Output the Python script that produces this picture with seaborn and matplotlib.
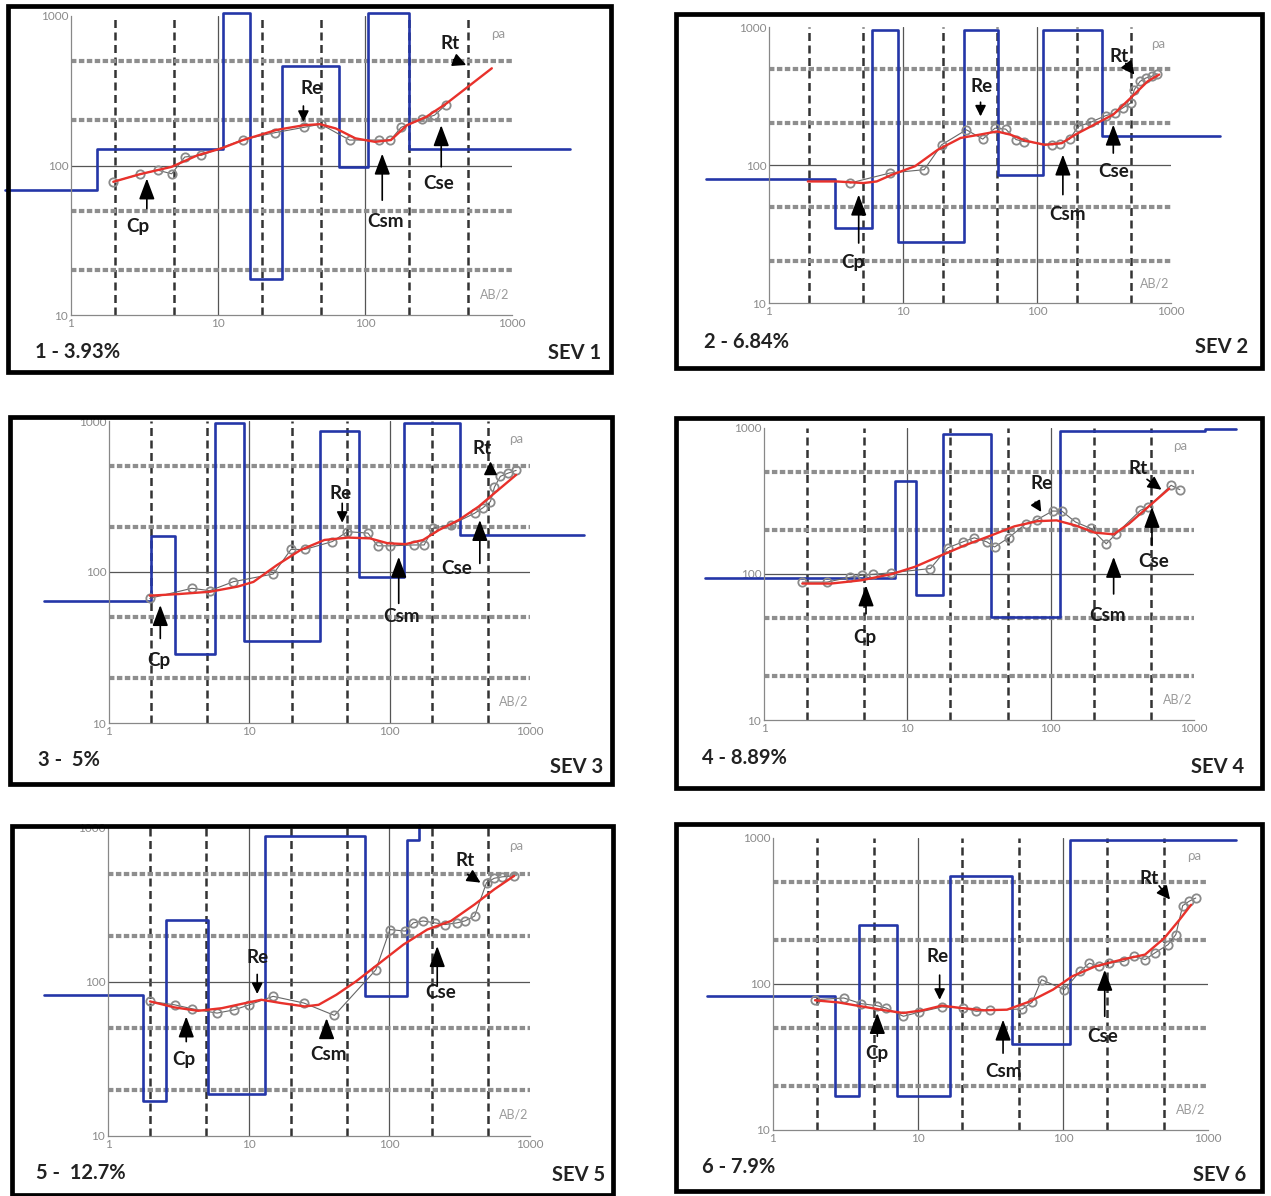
import numpy as np
import pandas as pd
import seaborn as sns
import matplotlib.pyplot as plt
from matplotlib.patches import Rectangle
from matplotlib.ticker import LogLocator, NullFormatter

# ---- data: layered model (blue), field points (circles), fitted curve (red) ----
sev1_depth = [1.5, 10.8, 16.4, 27.4, 66.5, 104, 199]
sev1_rho = [69, 128, 1050, 17.3, 465, 98, 1050, 128]
sev1_obs_ab = [1.94, 2.95, 3.9, 4.84, 5.94, 7.71, 14.8, 24.5, 38.5, 50, 78.5, 125, 149, 176, 244, 297, 353]
sev1_obs_rho = [77.8, 87.5, 93, 88, 114, 117, 149, 166, 180, 189, 148, 148, 148, 180, 204, 217, 253]
sev1_fit_ab = [1.94, 2.95, 4.84, 7.25, 10.5, 14.8, 25, 38.5, 49.4, 63.2, 86, 117, 150, 193, 262, 358, 519, 729]
sev1_fit_rho = [77.8, 87.5, 98, 117, 130, 148, 173, 186, 189, 177, 152, 144, 148, 186, 212, 260, 345, 447]

sev2_depth = [3.13, 5.84, 9.25, 28.4, 51.2, 110, 305]
sev2_rho = [79, 34.9, 950, 27.5, 950, 85, 950, 163]
sev2_obs_ab = [4.02, 8.0, 14.4, 19.4, 29.7, 39.4, 48.6, 58.4, 69.7, 79.4, 130, 148, 175, 203, 251, 326,
               384, 437, 499, 532, 588, 649, 716, 789]
sev2_obs_rho = [74, 87.5, 92.5, 140, 180, 154, 185, 182, 153, 148, 140, 143, 154, 190, 204, 228,
                238, 259, 281, 351, 404, 427, 439, 459]
sev2_fit_ab = [1.95, 3.19, 5.06, 6.36, 8.27, 12.3, 18.2, 26.9, 37.4, 50.2, 63.2, 82.2, 114, 153, 193, 267,
               371, 515, 670, 816]
sev2_fit_rho = [76, 76, 74, 76, 85, 98, 129, 157, 166, 175, 166, 150, 140, 144, 166, 196, 232, 315, 404, 452]

sev3_depth = [1.98, 2.97, 5.69, 9.19, 32.1, 60.3, 127, 315]
sev3_rho = [64.6, 172, 28.8, 970, 34.8, 853, 92, 970, 176]
sev3_obs_ab = [1.95, 3.9, 5.23, 7.71, 14.8, 19.8, 24.8, 39, 50, 70, 82, 100, 148, 176, 204, 273, 403,
               459, 523, 558, 615, 700, 797]
sev3_obs_rho = [66.9, 78, 75.2, 86.3, 97, 141, 141, 159, 185, 181, 149, 149, 151, 151, 195, 205, 245,
                265, 293, 365, 430, 452, 471]
sev3_fit_ab = [1.95, 3.11, 5.23, 8.23, 10.7, 15.7, 23.2, 34.3, 50.6, 72.3, 96.8, 130, 173, 225, 311, 430, 595, 797]
sev3_fit_rho = [69.7, 71.4, 74, 80, 86, 111, 140, 163, 169, 167, 155, 153, 163, 190, 221, 271, 350, 440]

sev4_depth = [8.22, 11.5, 17.7, 38.1, 117, 1200]
sev4_rho = [94, 433, 71.5, 906, 50.7, 953, 990]
sev4_obs_ab = [1.85, 2.75, 3.98, 4.79, 5.75, 7.73, 14.5, 19.1, 24.4, 29.3, 35.9, 40.6, 50.9, 67.1, 80.7,
               103, 120, 149, 191, 244, 284, 423, 479, 692, 797]
sev4_obs_rho = [88, 88, 95, 98, 99.5, 102, 109, 151, 166, 177, 166, 153, 177, 221, 236,
                270, 269, 227, 205, 161, 187, 273, 288, 405, 378]
sev4_fit_ab = [1.85, 2.93, 4.79, 7.82, 11.3, 16.3, 25.1, 38.6, 55.8, 80.7, 110, 149, 203, 275, 352, 479, 671]
sev4_fit_rho = [86, 86, 90.6, 100, 112, 131, 157, 184, 212, 230, 233, 215, 192, 187, 221, 288, 384]

sev5_depth = [1.77, 2.57, 5.14, 13.1, 67, 133, 163]
sev5_rho = [81.9, 16.8, 252, 18.6, 891, 80.8, 835, 1040]
sev5_obs_ab = [1.99, 2.97, 3.97, 5.96, 7.92, 10.1, 14.9, 24.7, 40.7, 80.2, 101, 130, 148, 174, 212, 249,
               302, 344, 404, 491, 558, 636, 772]
sev5_obs_rho = [74.8, 71.1, 67, 62.8, 66, 71.1, 80.7, 73, 60.7, 120, 219, 214, 242, 249, 242, 236,
                242, 249, 268, 442, 472, 482, 489]
sev5_fit_ab = [1.99, 2.97, 4.37, 6.44, 9.5, 12.3, 17, 25, 31.4, 42, 58, 85.6, 126, 186, 274, 404, 558, 772]
sev5_fit_rho = [74.8, 68.4, 65, 67.6, 73, 76.7, 73, 69.4, 71.1, 82.6, 101, 133, 175, 219, 249, 319, 400, 489]

sev6_depth = [2.68, 3.89, 7.15, 16.5, 44.2, 112]
sev6_rho = [82.4, 17.2, 255, 17.2, 552, 39, 964]
sev6_obs_ab = [1.95, 3.08, 4.06, 5.18, 6.03, 7.93, 10.1, 14.6, 20.4, 25.2, 31.2, 52.4, 61.1, 71.1, 102,
               131, 152, 177, 206, 263, 307, 368, 429, 530, 600, 669, 742, 823]
sev6_obs_rho = [78.1, 80.2, 73.3, 71.1, 68.5, 60.1, 64, 69.6, 68.5, 65, 66.1, 67.5, 74.8, 107, 91.5,
                122, 139, 132, 139, 143, 155, 147, 163, 186, 218, 344, 369, 388]
sev6_fit_ab = [1.95, 2.82, 4.06, 5.85, 7.93, 10.8, 14.6, 19.8, 28.5, 41.1, 59.2, 85.3, 116, 167, 255, 368, 499, 637, 765]
sev6_fit_rho = [77.3, 74.8, 70.3, 66.1, 63.3, 66.1, 71.1, 68.5, 66.1, 66.7, 76, 91.5, 113, 132, 147, 159, 206, 276, 349]

titles = ['1 - 3.93%', '2 - 6.84%', '3 -  5%', '4 - 8.89%', '5 -  12.7%', '6 - 7.9%']
sev_names = ['SEV 1', 'SEV 2', 'SEV 3', 'SEV 4', 'SEV 5', 'SEV 6']

# ---- layout (pixels in the 1271x1196 picture) ----
W, H = 1271, 1196
frames = [(8, 6, 611, 372), (676, 14, 1262, 368), (10, 417, 612, 784),
          (676, 418, 1262, 788), (12, 826, 613, 1195), (676, 824, 1262, 1191)]
axboxes = [(71, 16, 512, 315), (769, 27, 1171, 303), (109, 421, 530, 723),
           (764, 428, 1194, 720), (108, 828, 530, 1136), (773, 838, 1208, 1130)]
title_pos = [(35, 352), (704, 342), (38, 760), (702, 758), (36, 1173), (702, 1167)]
sev_pos = [(601, 353), (1248, 347), (603, 767), (1244, 767), (605, 1175), (1246, 1175)]
model_ext = [(0.356, 2470), (0.34, 2320), (0.343, 2430), (0.39, 1960), (0.35, 163), (0.35, 1560)]

# label, text (x, y), arrow tail (x, y), arrow tip (x, y)
notes = [
    [('Cp', 2.86, 38.8, 3.28, 51.5, 3.28, 81.9), ('Re', 43.6, 328, 38.1, 250, 38.1, 196),
     ('Csm', 137, 42, 131, 58.6, 131, 120), ('Cse', 316, 75.7, 330, 98, 330, 186),
     ('Rt', 381, 656, 400, 510, 488, 470)],
    [('Cp', 4.24, 19.5, 4.67, 27.2, 4.67, 61), ('Re', 38.6, 371, 37.9, 285, 37.9, 225),
     ('Csm', 169, 43.6, 156, 61, 156, 119), ('Cse', 371, 90, 371, 122, 371, 196),
     ('Rt', 410, 612, 460, 545, 533, 452)],
    [('Cp', 2.25, 26, 2.32, 36.3, 2.32, 60.4), ('Re', 44.5, 333, 45.9, 285, 45.9, 212),
     ('Csm', 121, 50.6, 116, 62, 116, 126), ('Cse', 301, 106, 439, 114, 439, 221),
     ('Rt', 459, 662, 523, 452, 523, 540)],
    [('Cp', 5.09, 37, 5.15, 53.4, 5.15, 83.5), ('Re', 85.8, 416, 78, 310, 86, 266),
     ('Csm', 251, 52, 275, 73, 275, 131), ('Cse', 525, 121, 509, 157, 509, 288),
     ('Rt', 410, 526, 470, 445, 593, 378)],
    [('Cp', 3.48, 31.6, 3.6, 41, 3.6, 59.7), ('Re', 11.5, 144, 11.5, 112, 11.5, 83.6),
     ('Csm', 36.9, 33.6, 35.8, 43.2, 35.8, 58.2), ('Cse', 233, 85.7, 219, 94, 219, 171),
     ('Rt', 344, 612, 360, 500, 445, 442)],
    [('Cp', 5.18, 33.6, 5.24, 43.9, 5.24, 63.3), ('Re', 13.7, 155, 14.1, 115, 14.1, 78),
     ('Csm', 38.6, 25.2, 38.6, 33.6, 38.6, 57), ('Cse', 188, 43.8, 194, 60.1, 194, 125),
     ('Rt', 391, 532, 460, 470, 547, 379)],
]

panels = [
    (sev1_depth, sev1_rho, sev1_obs_ab, sev1_obs_rho, sev1_fit_ab, sev1_fit_rho),
    (sev2_depth, sev2_rho, sev2_obs_ab, sev2_obs_rho, sev2_fit_ab, sev2_fit_rho),
    (sev3_depth, sev3_rho, sev3_obs_ab, sev3_obs_rho, sev3_fit_ab, sev3_fit_rho),
    (sev4_depth, sev4_rho, sev4_obs_ab, sev4_obs_rho, sev4_fit_ab, sev4_fit_rho),
    (sev5_depth, sev5_rho, sev5_obs_ab, sev5_obs_rho, sev5_fit_ab, sev5_fit_rho),
    (sev6_depth, sev6_rho, sev6_obs_ab, sev6_obs_rho, sev6_fit_ab, sev6_fit_rho),
]

sns.set_style('white')
plt.rcParams['font.family'] = ['Lato', 'DejaVu Sans']

fig = plt.figure(figsize=(W / 100, H / 100), dpi=100)


def fig_rect(l, t, r, b):
    return [l / W, 1 - b / H, (r - l) / W, (b - t) / H]


arrow_styles = {
    'Cp': '-|>,head_length=0.8,head_width=0.3',
    'Csm': '-|>,head_length=0.8,head_width=0.3',
    'Cse': '-|>,head_length=0.8,head_width=0.3',
    'Re': '-|>,head_length=0.4,head_width=0.2',
    'Rt': '-|>,head_length=0.5,head_width=0.25',
}

for i, (depth, rho, obs_ab, obs_rho, fit_ab, fit_rho) in enumerate(panels):
    l, t, r, b = frames[i]
    fig.add_artist(Rectangle((l / W, 1 - b / H), (r - l) / W, (b - t) / H, transform=fig.transFigure,
                             fill=False, ec='black', lw=3.4, zorder=10))

    ax = fig.add_axes(fig_rect(*axboxes[i]))
    ax.set_xscale('log')
    ax.set_yscale('log')
    ax.set_xlim(1, 1000)
    ax.set_ylim(10, 1000)

    # grid like the sounding software
    for xv in [2, 5, 20, 50, 200, 500]:
        ax.axvline(xv, color='#333333', lw=1.8, ls=(0, (3.2, 1.8)), zorder=1)
    for xv in [10, 100]:
        ax.axvline(xv, color='#555555', lw=0.9, zorder=1)
    for yv in [20, 50, 200, 500]:
        ax.axhline(yv, color='#8e8e8e', lw=3.0, ls=(0, (1.3, 0.6)), zorder=1)
    ax.axhline(100, color='#555555', lw=0.9, zorder=1)

    # blue layered model
    lo, hi = model_ext[i]
    mx = [lo] + list(depth) + [hi]
    my = list(rho) + [rho[-1]]
    sns.lineplot(x=mx, y=my, ax=ax, color='#2436a8', lw=1.9, drawstyle='steps-post',
                 estimator=None, sort=False, clip_on=False, zorder=2)

    # field data
    sns.lineplot(x=obs_ab, y=obs_rho, ax=ax, color='#666666', lw=0.8, estimator=None, sort=False,
                 marker='o', ms=6, mfc='none', mec='#8a8a8a', mew=1.3, zorder=3)
    # fitted curve
    sns.lineplot(x=fit_ab, y=fit_rho, ax=ax, color='#e8312b', lw=1.7, estimator=None, sort=False, zorder=4)

    for lab, tx, ty, ax0, ay0, ax1, ay1 in notes[i]:
        ax.annotate('', xy=(ax1, ay1), xytext=(ax0, ay0),
                    arrowprops=dict(arrowstyle=arrow_styles[lab], color='black', lw=1.2, mutation_scale=16,
                                    shrinkA=0, shrinkB=0), zorder=5)
        ax.text(tx, ty, lab, ha='center', va='center', fontsize=13.5, weight='bold',
                color='#1a1a1a', zorder=6)

    ax.text(0.985, 0.94, 'ρa', transform=ax.transAxes, ha='right', va='center', fontsize=9.5, color='#9a9a9a')
    ax.text(0.995, 0.07, 'AB/2', transform=ax.transAxes, ha='right', va='center', fontsize=9, color='#9a9a9a')

    ax.set_xticks([1, 10, 100, 1000])
    ax.set_xticklabels(['1', '10', '100', '1000'])
    ax.set_yticks([10, 100, 1000])
    ax.set_yticklabels(['10', '100', '1000'])
    ax.xaxis.set_minor_locator(LogLocator(base=10, subs=np.arange(2, 10)))
    ax.yaxis.set_minor_locator(LogLocator(base=10, subs=np.arange(2, 10)))
    ax.xaxis.set_minor_formatter(NullFormatter())
    ax.yaxis.set_minor_formatter(NullFormatter())
    ax.tick_params(which='both', direction='in', color='#888888', labelcolor='#8a8a8a', labelsize=8.5, pad=2)
    ax.tick_params(which='major', length=5)
    ax.tick_params(which='minor', length=3)
    for side in ['top', 'right']:
        ax.spines[side].set_visible(False)
    for side in ['left', 'bottom']:
        ax.spines[side].set_color('#888888')
        ax.spines[side].set_linewidth(0.9)
    ax.set_xlabel('')
    ax.set_ylabel('')
    ax.patch.set_alpha(0)

    tx, ty = title_pos[i]
    fig.text(tx / W, 1 - ty / H, titles[i], ha='left', va='center', fontsize=14.5, weight='bold',
             color='#222222')
    sx, sy = sev_pos[i]
    fig.text(sx / W, 1 - sy / H, sev_names[i], ha='right', va='center', fontsize=14.5,
             weight='bold', color='#222222')

plt.savefig('out.png', dpi=100)
plt.close()
